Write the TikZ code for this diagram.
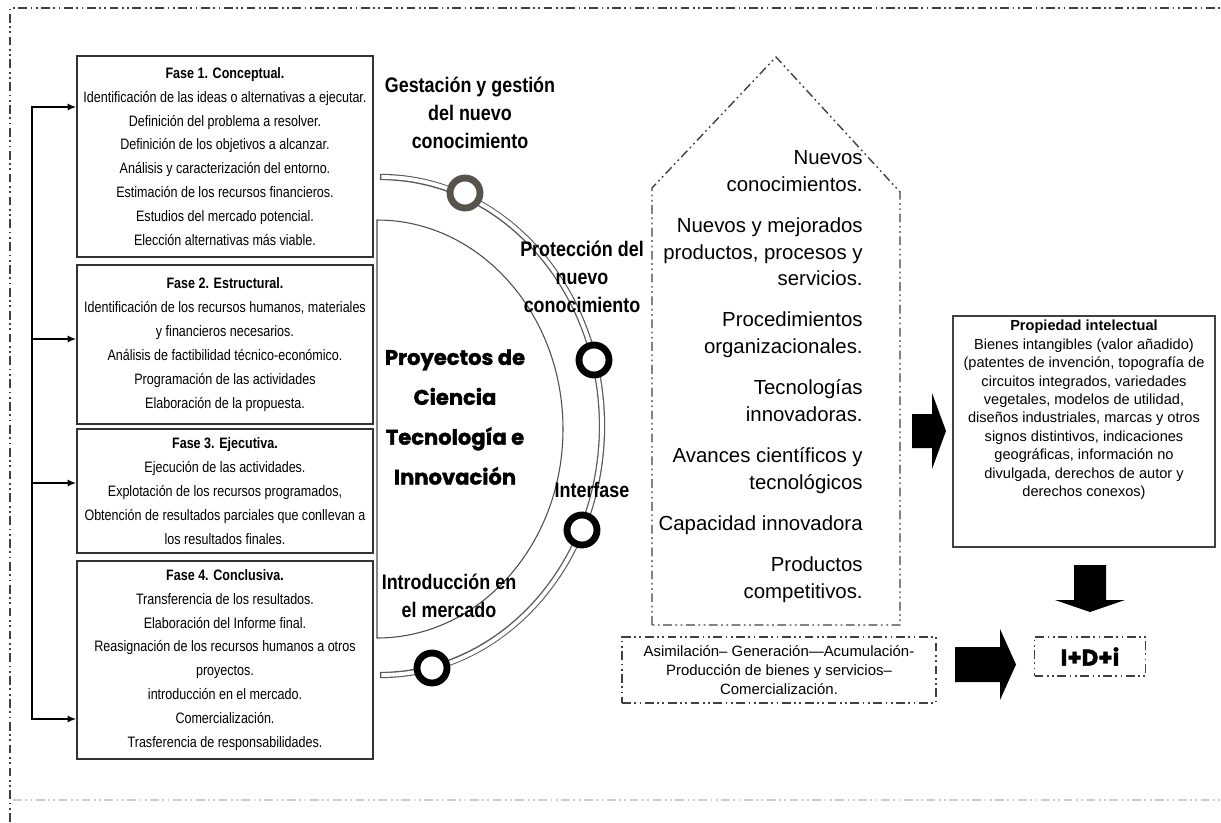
\documentclass[tikz,border=0pt]{standalone}
\usepackage{fontspec}
\setmainfont{Liberation Sans}
\newfontfamily\narrowfont[FakeStretch=0.83]{Liberation Sans}
\newfontfamily\hitofont[FakeStretch=0.85]{Liberation Sans}
\newfontfamily\titlefont[BoldFeatures={FakeBold=1.6}]{Poppins}
\usetikzlibrary{arrows.meta,positioning}
\definecolor{anillogris}{RGB}{88,82,76}

\begin{document}
\begin{tikzpicture}[x=0.02cm,y=-0.02cm,
    fase/.style={draw=black!80,line width=0.7pt,fill=white,minimum width=5.92cm,align=center,inner sep=0pt,font=\narrowfont\fontsize{8.6}{13.6}\selectfont},
    hito/.style={align=center,inner sep=0pt,font=\hitofont\bfseries\fontsize{12}{15.9}\selectfont},
    anillo/.style={circle,draw=black,line width=3.9pt,fill=white,minimum size=0.6cm,inner sep=0pt},
    rayado/.style={dash pattern=on 5pt off 2pt on 1pt off 2pt on 1pt off 2pt},
    flecha/.style={-{Latex[length=5pt,width=4pt]},line width=1.1pt}]
    \useasboundingbox (0,0) rectangle (1221,822);

    % marco
    \draw[rayado,black!75,line width=1pt] (10,822) -- (10,8) -- (1221,8);
    \draw[rayado,black!20,line width=0.9pt] (13,800) -- (1221,800);

    % semicirculo central
    \draw[black!70,line width=0.6pt,fill=white] (377,220) arc[start angle=-90,end angle=90,x radius=186,y radius=209] -- cycle;

    % fases
    \node (f1) at (225,156.5) [fase,minimum height=4.02cm] {\textbf{Fase 1. Conceptual.}\\
        Identificación de las ideas o alternativas a ejecutar.\\
        Definición del  problema a resolver.\\
        Definición de los objetivos a alcanzar.\\
        Análisis y caracterización del entorno.\\
        Estimación de los recursos financieros.\\
        Estudios del mercado potencial.\\
        Elección alternativas más viable.};
    \node (f2) at (225,344.5) [fase,minimum height=3.18cm] {\textbf{Fase 2. Estructural.}\\
        Identificación de los recursos humanos, materiales\\
        y financieros necesarios.\\
        Análisis de factibilidad técnico-económico.\\
        Programación de las actividades\\
        Elaboración de  la propuesta.};
    \node (f3) at (225,491) [fase,minimum height=2.48cm] {\textbf{Fase 3. Ejecutiva.}\\
        Ejecución de las actividades.\\
        Explotación de los recursos programados,\\
        Obtención de resultados parciales que conllevan a\\
        los resultados finales.};
    \node (f4) at (225,660) [fase,minimum height=3.96cm] {\textbf{Fase 4.  Conclusiva.}\\
        Transferencia de los resultados.\\
        Elaboración del Informe final.\\
        Reasignación de los recursos humanos a otros\\
        proyectos.\\
        introducción en el mercado.\\
        Comercialización.\\
        Trasferencia de responsabilidades.};

    \coordinate (c1) at (32,107);
    \coordinate (c2) at (32,339);
    \coordinate (c3) at (32,483);
    \coordinate (c4) at (32,719);
    \draw[flecha] (c4) -- (c1) -- (f1.west |- c1);
    \draw[flecha] (c1) -- (c4) -- (f4.west |- c4);
    \draw[flecha] (c2) -- (f2.west |- c2);
    \draw[flecha] (c3) -- (f3.west |- c3);

    % banda exterior
    \draw[black!65,line width=3.6pt] (380,177) arc[start angle=-90,end angle=90,x radius=222,y radius=249];
    \draw[white,line width=2.2pt,shorten <=0.8pt,shorten >=0.8pt] (380,177) arc[start angle=-90,end angle=90,x radius=222,y radius=249];

    \node (a1) at (465,193) [anillo,draw=anillogris] {};
    \node (a2) at (594,360) [anillo] {};
    \node (a3) at (582,530) [anillo] {};
    \node (a4) at (432,668) [anillo] {};

    \node (gestion) at (470,113) [hito] {Gestación y gestión\\del nuevo\\conocimiento};
    \node (proteccion) at (582,277) [hito] {Protección del\\nuevo\\conocimiento};
    \node (interfase) at (592,490) [hito] {Interfase};
    \node (mercado) at (449,596) [hito] {Introducción en\\el mercado};

    \node (titulo) at (455,417) [align=center,inner sep=0pt,font=\titlefont\bfseries\fontsize{12}{22.7}\selectfont] {Proyectos de\\Ciencia\\Tecnología e\\Innovación};

    % resultados
    \draw[rayado,black!75,line width=0.8pt] (652,625) -- (652,188) -- (776,57) -- (900,192) -- (900,625) -- cycle;
    \node (logros) at (863,150) [anchor=north east,align=right,inner sep=0pt,font=\fontsize{11.6}{15.3}\selectfont] {Nuevos\\conocimientos.\\[8pt]
        Nuevos y mejorados\\productos, procesos y\\servicios.\\[8pt]
        Procedimientos\\organizacionales.\\[8pt]
        Tecnologías\\innovadoras.\\[8pt]
        Avances científicos y\\tecnológicos\\[8pt]
        Capacidad innovadora\\[8pt]
        Productos\\competitivos.};

    \node (proceso) at (779,670) [draw=black!75,rayado,line width=0.8pt,minimum width=6.28cm,minimum height=1.32cm,align=center,inner sep=0pt,font=\fontsize{8.5}{10.8}\selectfont] {Asimilación– Generación—Acumulación-\\Producción de bienes y servicios–\\Comercialización.};

    \node (prop) at (1084,431.5) [draw=black!75,line width=0.8pt,minimum width=5.24cm,minimum height=4.62cm] {};
    \node (propt) [below=0.09cm of prop.north,align=center,inner sep=0pt,font=\fontsize{8.3}{10.5}\selectfont] {\textbf{Propiedad intelectual}\\
        Bienes intangibles (valor añadido)\\
        (patentes de invención, topografía de\\
        circuitos integrados, variedades\\
        vegetales, modelos de utilidad,\\
        diseños industriales, marcas y otros\\
        signos distintivos, indicaciones\\
        geográficas, información no\\
        divulgada, derechos de autor y\\
        derechos conexos)};

    \node (idi) at (1090,656.5) [draw=black!75,rayado,line width=0.8pt,minimum width=2.22cm,minimum height=0.78cm,font=\titlefont\bfseries\fontsize{13}{15}\selectfont] {I+D+i};

    % flechas gruesas
    \fill (912,414) -- (932,414) -- (932,393) -- (946,431) -- (932,469) -- (932,448) -- (912,448) -- cycle;
    \fill (955,647) -- (1000,647) -- (1000,629) -- (1016,664.5) -- (1000,700) -- (1000,682) -- (955,682) -- cycle;
    \fill (1074,565) -- (1106,565) -- (1106,600) -- (1125,600) -- (1090,612) -- (1055,600) -- (1074,600) -- cycle;
\end{tikzpicture}
\end{document}
